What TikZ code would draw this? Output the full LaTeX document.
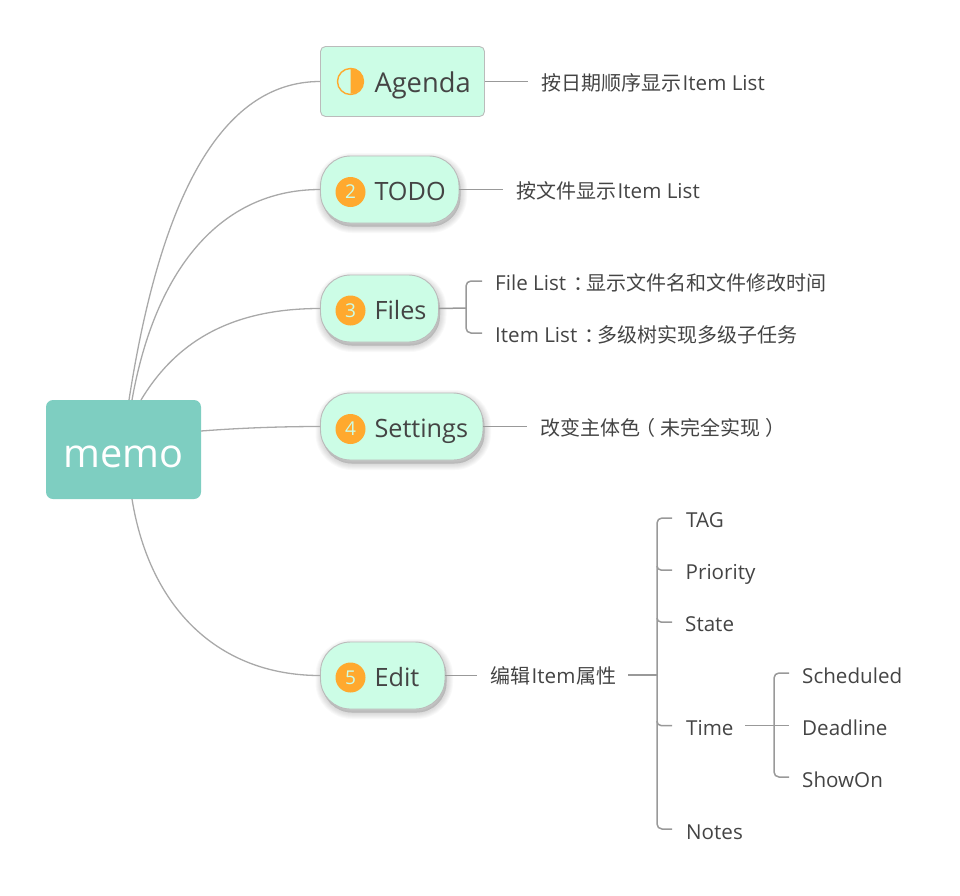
\documentclass[tikz,border=0pt]{standalone}
\usepackage{fontspec}
\setmainfont[Scale=1.03]{Open Sans}
\newfontfamily\cjk{Noto Sans CJK SC}
\definecolor{txt}{HTML}{444444}
\definecolor{mint}{HTML}{CCFDE6}
\definecolor{teal}{HTML}{7ECEC1}
\definecolor{edge}{HTML}{BBBBBB}
\definecolor{curve}{HTML}{A9A9A9}
\definecolor{brk}{HTML}{999999}
\definecolor{orange}{HTML}{FFA92E}
\tikzset{
  x=1pt,y=-1pt,
  shlayer/.style={preaction={draw=black,fill=black,line width=#1,opacity=.022,transform canvas={xshift=1.5pt,yshift=-3.5pt}}},
  boxbase/.style={draw=edge,line width=.9pt,fill=mint,text=txt,font=\fontsize{24.5}{30}\selectfont,
     inner xsep=0pt,inner ysep=0pt,align=left,minimum height=#1,text height=21pt,text depth=0pt},
  squarebox/.style={boxbase=70pt,rounded corners=5pt,font=\fontsize{26.5}{30}\selectfont},
  pill/.style={boxbase=67pt,rounded corners=30pt,shlayer=13pt,shlayer=11pt,shlayer=9pt,shlayer=7pt,shlayer=5pt,shlayer=3pt,shlayer=1pt},
  badge/.style={circle,fill=orange,minimum size=30pt,inner sep=0pt,text=mint,font=\fontsize{18.5}{22}\selectfont},
  leaf/.style={anchor=west,inner sep=0pt,text=txt,font=\fontsize{20}{24}\selectfont,text height=14pt,text depth=0pt},
  link/.style={draw=curve,line width=1.3pt},
  branch/.style={draw=brk,line width=1.5pt,rounded corners=5pt},
}
\newcommand{\colonmark}{\hspace*{7pt}：\hspace*{-7pt}}
\newcommand{\openmark}{\hspace*{-5pt}（\hspace*{5pt}}
\newcommand{\closemark}{\hspace*{5pt}）\hspace*{-5pt}}
\begin{document}
\begin{tikzpicture}
\useasboundingbox (0,0) rectangle (960,895);
% central topic
\node[fill=teal,rounded corners=7pt,minimum width=155pt,minimum height=99pt,inner sep=0pt,
      text=white,font=\fontsize{38.5}{44}\selectfont,text height=35pt,text depth=0pt] (memo) at (123.5,449.5) {memo};
% main topics
\node[squarebox,text width=164pt] (agenda) at (402.5,81.5) {\hspace*{54pt}Agenda};
\node[pill,text width=138.5pt] (todo) at (389.75,189.5) {\hspace*{54pt}TODO};
\node[pill,text width=118pt] (files) at (379.5,308.5) {\hspace*{54pt}Files};
\node[pill,text width=162.5pt] (settings) at (401.75,426.5) {\hspace*{54pt}Settings};
\node[pill,text width=124.5pt] (edit) at (382.75,675.5) {\hspace*{54pt}Edit};
% icons
\node[circle,draw=orange,line width=1.4pt,minimum size=26pt,inner sep=0pt] (half) at (350.5,81.5) {};
\fill[orange] (half.north) arc[start angle=90,end angle=-90,radius=13pt] -- cycle;
\node[badge] (b2) at (350.5,192) {2};
\node[badge] (b3) at (350.5,310.5) {3};
\node[badge] (b4) at (350.5,429) {4};
\node[badge] (b5) at (350.5,677.5) {5};
% leaves
\node[leaf] (t1) at (541,83) {{\cjk 按日期顺序显示}\hspace{1.5pt}Item List};
\node[leaf] (t2) at (516,191) {{\cjk 按文件显示}\hspace{1.5pt}Item List};
\node[leaf] (t3a) at (495,283) {File List{\cjk \colonmark 显示文件名和文件修改时间}};
\node[leaf] (t3b) at (495,335) {Item List{\cjk \colonmark 多级树实现多级子任务}};
\node[leaf] (t4) at (540,428) {{\cjk 改变主体色\openmark 未完全实现\closemark}};
\node[leaf] (t5) at (490,676) {{\cjk 编辑}\hspace{1.5pt}Item\hspace{1.5pt}{\cjk 属性}};
\node[leaf] (tag) at (686,520) {TAG};
\node[leaf] (pri) at (685.5,572) {Priority};
\node[leaf] (sta) at (685,624) {State};
\node[leaf] (tim) at (686,728) {Time};
\node[leaf] (not) at (686,832) {Notes};
\node[leaf] (sch) at (802,676) {Scheduled};
\node[leaf] (dea) at (802,728) {Deadline};
\node[leaf] (sho) at (802,780) {ShowOn};
% curved links
\coordinate (m1) at (129,400);
\coordinate (m2) at (132,400);
\coordinate (m3) at (141,400);
\coordinate (m4) at (201,431);
\coordinate (m5) at (132,499);
\draw[link] (m1) .. controls (160,200) and (220,81.5) .. (agenda.west);
\draw[link] (m2) .. controls (155,270) and (220,189.5) .. (todo.west);
\draw[link] (m3) .. controls (180,335) and (240,308.5) .. (files.west);
\draw[link] (m4) .. controls (240,428) and (280,426.5) .. (settings.west);
\draw[link] (m5) .. controls (150,610) and (220,675.5) .. (edit.west);
% straight links
\draw[branch] (agenda.east) -- (528,81.5) coordinate (e1);
\draw[branch] (todo.east) -- (503,189.5) coordinate (e2);
\draw[branch] (settings.east) -- (527,426.5) coordinate (e4);
\draw[branch] (edit.east) -- (477,675.5) coordinate (e5);
% Files bracket
\draw[branch] (files.east) -- (466,308);
\draw[branch] (482,281) -- (466,281) -- (466,333) -- (482,333);
% Edit bracket
\draw[branch] (628,675) -- (657,675);
\draw[branch] (672,518) -- (657,518) -- (657,829) -- (672,829);
\draw[branch,rounded corners=4pt] (657,566) -- (657,570) -- (672,570);
\draw[branch,rounded corners=4pt] (657,618) -- (657,622) -- (672,622);
\draw[branch,rounded corners=4pt] (657,721) -- (657,725.5) -- (672,725.5);
% Time bracket
\draw[branch] (745,725.5) -- (789,725.5);
\draw[branch] (789,673) -- (774,673) -- (774,777) -- (789,777);
\end{tikzpicture}
\end{document}
